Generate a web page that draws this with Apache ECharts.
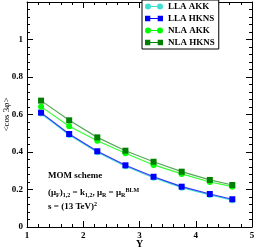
<!DOCTYPE html>
<html><head><meta charset="utf-8">
<script src="https://cdn.jsdelivr.net/npm/echarts@6/dist/echarts.min.js"></script>
<style>html,body{margin:0;padding:0;background:#fff}#c{width:256px;height:247px}</style>
</head><body><div id="c"></div>
<script>
var rapidity = [1.25, 1.75, 2.25, 2.75, 3.25, 3.75, 4.25, 4.65];
var llaAkk  = [0.605, 0.491, 0.399, 0.324, 0.263, 0.210, 0.171, 0.143];
var llaHkns = [0.610, 0.496, 0.404, 0.329, 0.268, 0.215, 0.176, 0.148];
var nlaAkk  = [0.642, 0.537, 0.460, 0.393, 0.331, 0.283, 0.240, 0.215];
var nlaHkns = [0.674, 0.569, 0.478, 0.407, 0.348, 0.295, 0.251, 0.224];
var seriesNames = ['LLA AKK', 'LLA HKNS', 'NLA AKK', 'NLA HKNS'];
var xTicks = [1, 2, 3, 4, 5];
var yTicks = [0, 0.2, 0.4, 0.6, 0.8, 1];

var F = 'Liberation Serif';
var circIcon = 'path://M0,3a3,3 0 1,0 6,0a3,3 0 1,0 -6,0Z M6,2.5L12,2.5L12,3.5L6,3.5Z M12,3a3,3 0 1,0 6,0a3,3 0 1,0 -6,0Z';
var rectIcon = 'path://M0.5,0.5L5.5,0.5L5.5,5.5L0.5,5.5Z M5.5,2.5L12.5,2.5L12.5,3.5L5.5,3.5Z M12.5,0.5L17.5,0.5L17.5,5.5L12.5,5.5Z';
function pairs(v){ return rapidity.map(function(x,i){ return [x, v[i]]; }); }
function mk(name, data, color, lineColor, symbol){
  return {name:name, type:'line', data:pairs(data), symbol:symbol, symbolSize:6,
    itemStyle:{color:color}, lineStyle:{color:lineColor, width:1.2}, animation:false};
}
function axisCommon(){
  return {axisLine:{show:true, onZero:false, lineStyle:{color:'#000', width:1}},
    axisTick:{show:true, inside:true, length:6, lineStyle:{color:'#000'}},
    minorTick:{show:true, splitNumber:5, length:3, lineStyle:{color:'#000'}},
    splitLine:{show:false}, nameMoveOverlap:false};
}
var xa = Object.assign(axisCommon(), {type:'value', min:1, max:5, interval:1, position:'bottom',
  axisLabel:{show:true, color:'#000', fontFamily:F, fontWeight:'bold', fontSize:9, margin:4,
    formatter:function(v){ return xTicks.indexOf(v)>=0 ? String(v) : ''; }},
  name:'Y', nameLocation:'middle', nameGap:12, nameTextStyle:{color:'#000', fontFamily:F, fontWeight:'bold', fontSize:10}});
var xb = Object.assign(axisCommon(), {type:'value', min:1, max:5, interval:1, position:'top', axisLabel:{show:false}});
var ya = Object.assign(axisCommon(), {type:'value', min:0, max:1.2, interval:0.2, position:'left',
  axisLabel:{show:true, color:'#000', fontFamily:F, fontWeight:'bold', fontSize:9, margin:4,
    formatter:function(v){ var r=Math.round(v*10)/10; return yTicks.indexOf(r)>=0 ? String(r) : ''; }},
  name:'<cos 3\u03C6>', nameLocation:'middle', nameGap:16, nameRotate:90,
  nameTextStyle:{color:'#000', fontFamily:F, fontSize:9}});
var yb = Object.assign(axisCommon(), {type:'value', min:0, max:1.2, interval:0.2, position:'right', axisLabel:{show:false}});

var chart = echarts.init(document.getElementById('c'), null, {renderer:'canvas'});
var sub = {fontSize:6, fontFamily:F, fontWeight:'bold', verticalAlign:'bottom', padding:[5,0,0,0]};
var sup = {fontSize:6, fontFamily:F, fontWeight:'bold', verticalAlign:'top', padding:[0,0,5,0]};
chart.setOption({
  animation:false,
  grid:{left:27, right:4, top:2, bottom:20, containLabel:false, outerBoundsMode:'none'},
  xAxis:[xa, xb],
  yAxis:[ya, yb],
  legend:{orient:'vertical', left:142, top:0, itemWidth:18, itemHeight:6, itemGap:3,
    data:[{name:seriesNames[0], icon:circIcon},{name:seriesNames[1], icon:rectIcon},
          {name:seriesNames[2], icon:circIcon},{name:seriesNames[3], icon:rectIcon}],
    borderColor:'#000', borderWidth:1, padding:[2,4,2,3], backgroundColor:'#fff',
    textStyle:{color:'#000', fontFamily:F, fontWeight:'bold', fontSize:9}},
  series:[
    Object.assign(mk(seriesNames[0], llaAkk, '#40e0d0', '#40e0d0', 'circle'), {xAxisIndex:0, yAxisIndex:0}),
    Object.assign(mk(seriesNames[1], llaHkns, '#0000ff', '#3333ff', 'rect'), {xAxisIndex:0, yAxisIndex:0}),
    Object.assign(mk(seriesNames[2], nlaAkk, '#00ff00', '#33ff33', 'circle'), {xAxisIndex:0, yAxisIndex:0}),
    Object.assign(mk(seriesNames[3], nlaHkns, '#008000', '#55a855', 'rect'), {xAxisIndex:0, yAxisIndex:0})
  ],
  graphic:[
    {type:'text', left:48, top:171, style:{text:'MOM scheme', fill:'#000', font:'bold 9px "Liberation Serif"'}},
    {type:'text', left:48, top:187, style:{text:'(\u03BC{sub|F}){sub|1,2} = k{sub|1,2}, \u03BC{sub|R} = \u03BC{sub|R}{sup|BLM}', fill:'#000',
      font:'bold 9px "Liberation Serif"', rich:{sub:sub, sup:sup}}},
    {type:'text', left:48, top:201, style:{text:'s = (13 TeV){sup|2}', fill:'#000', font:'bold 9px "Liberation Serif"', rich:{sup:sup}}}
  ]
});
</script></body></html>
